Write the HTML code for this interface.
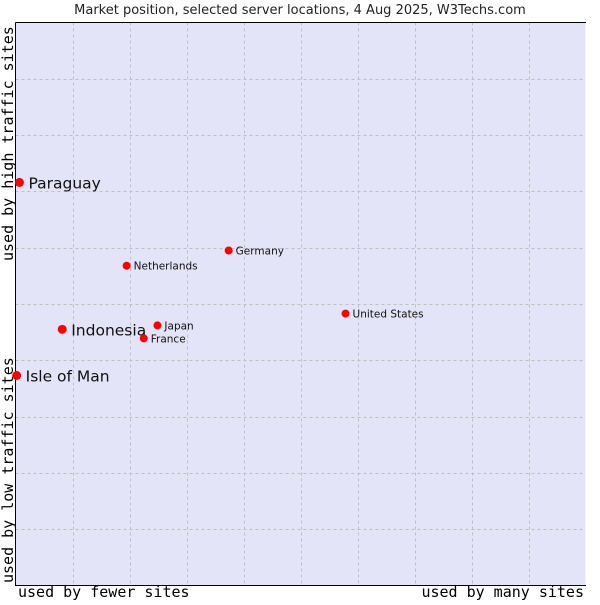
<!DOCTYPE html>
<html><head><meta charset="utf-8"><style>
body{margin:0;background:#fff;width:600px;height:600px;overflow:hidden}
svg text{font-family:"DejaVu Sans","Liberation Sans",sans-serif}
.mono{font-family:"DejaVu Sans Mono","Liberation Mono",monospace}
</style></head><body>
<svg id="chart" width="600" height="600">
<text x="300" y="14" text-anchor="middle" font-size="13" fill="#222">Market position, selected server locations, 4 Aug 2025, W3Techs.com</text>
<rect x="15.5" y="22.5" width="570" height="563" fill="#e3e4f8" stroke="none"/>
<g id="grid"></g>
<path d="M15.5 22.5V585.5H586" stroke="#000" fill="none"/>
<path d="M15.5 22.5H586" stroke="#000" fill="none"/>
<text class="mono" x="18" y="597" font-size="15" fill="#000">used by fewer sites</text>
<text class="mono" x="584" y="597" font-size="15" fill="#000" text-anchor="end">used by many sites</text>
<text class="mono" transform="translate(13,261) rotate(-90)" font-size="15" fill="#000">used by high traffic sites</text>
<text class="mono" transform="translate(13,583) rotate(-90)" font-size="15" fill="#000">used by low traffic sites</text>
<g id="points"></g>
</svg>
<script>
const names=["Paraguay","Indonesia","Isle of Man","Japan","France","Netherlands","Germany","United States"];
const xVals=[0.7,8.2,0.2,24.9,22.5,19.5,37.4,57.9];
const yVals=[71.6,45.5,37.3,46.2,43.9,56.8,59.5,48.3];
const big=[true,true,true,false,false,false,false,false];
const X0=15.5,X1=585.5,Y0=585.5,Y1=22.5;
const sx=v=>X0+v/100*(X1-X0), sy=v=>Y0-v/100*(Y0-Y1);
const NS="http://www.w3.org/2000/svg";
const grid=document.getElementById('grid');
for(let i=1;i<10;i++){
  const l=document.createElementNS(NS,'line');
  
  
  const x=Math.round(sx(i*10))+0.5;
  l.setAttribute('x1',x);l.setAttribute('x2',x);l.setAttribute('y1',Y1);l.setAttribute('y2',Y0);
  l.setAttribute('stroke','#c0c0c0');l.setAttribute('stroke-dasharray','3,3');grid.appendChild(l);
  const h=document.createElementNS(NS,'line');
  
  
  const y=Math.round(sy(i*10))+0.5;
  h.setAttribute('x1',X0);h.setAttribute('x2',X1);h.setAttribute('y1',y);h.setAttribute('y2',y);
  h.setAttribute('stroke','#c0c0c0');h.setAttribute('stroke-dasharray','3,3');grid.appendChild(h);
}
const pts=document.getElementById('points');
names.forEach((n,i)=>{
  const x=sx(xVals[i]),y=sy(yVals[i]);
  const c=document.createElementNS(NS,'circle');
  
  
  c.setAttribute('cx',x);c.setAttribute('cy',y);c.setAttribute('r',big[i]?4.5:4);c.setAttribute('fill','#f00');
  pts.appendChild(c);
  const t=document.createElementNS(NS,'text');
  
  
  t.setAttribute('x',x+(big[i]?9:7));t.setAttribute('y',y+(big[i]?6:4));
  t.setAttribute('font-size',big[i]?'15.5':'10.5');t.setAttribute('fill','#111');
  t.textContent=n;pts.appendChild(t);
});
</script>
</body></html>
